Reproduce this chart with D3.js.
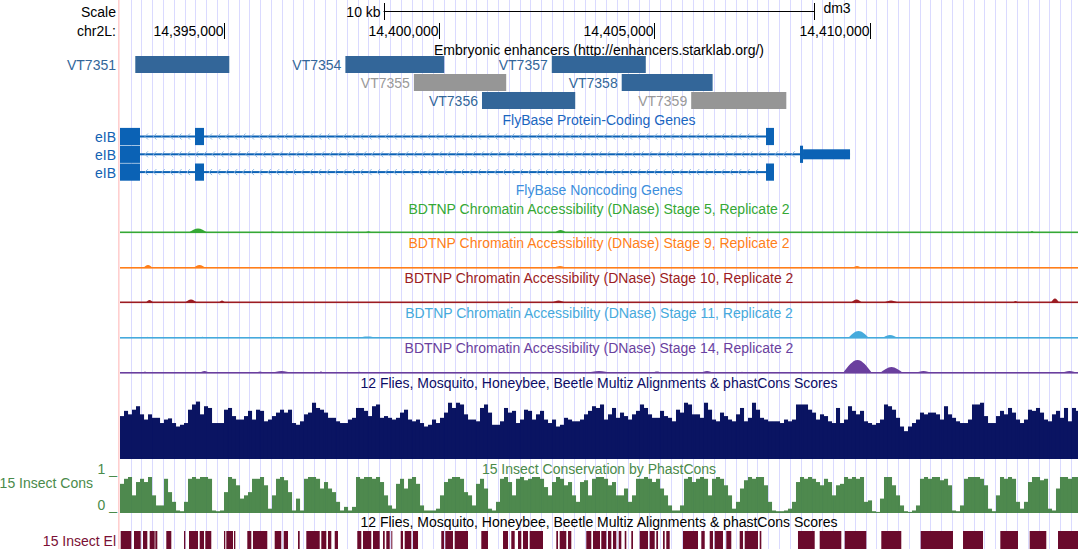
<!DOCTYPE html>
<html><head><meta charset="utf-8">
<script src="https://cdn.jsdelivr.net/npm/d3@7"></script>
<style>
body{margin:0;background:#fff}
svg{display:block}
text{font-family:"Liberation Sans",Arial,Helvetica,sans-serif;font-size:14px}
</style>
</head><body>
<svg id="c" width="1078" height="549"></svg>
<script>
// ---------------- DATA ----------------
const chromLabel = "chr2L:";
const assembly = "dm3";
const viewStart = 14392595, viewEnd = 14414833;
const posTicks = [14395000, 14400000, 14405000, 14410000];
const posLabels = ["14,395,000", "14,400,000", "14,405,000", "14,410,000"];
const scaleBarBp = 10000;
const scaleBarLabel = "10 kb";

const enhNames  = ["VT7351", "VT7354", "VT7355", "VT7356", "VT7357", "VT7358", "VT7359"];
const enhStarts = [14392950, 14397827, 14399417, 14400998, 14402618, 14404241, 14405854];
const enhEnds   = [14395132, 14400121, 14401560, 14403162, 14404800, 14406351, 14408062];
const enhRows   = [0, 0, 1, 2, 0, 1, 2];
const enhActive = [1, 1, 0, 1, 1, 1, 0];

const geneNames   = ["eIB", "eIB", "eIB"];
const geneStarts  = [14392300, 14392300, 14392300];
const geneEnds    = [14407776, 14409541, 14407776];
const geneCdsEnds = [14407776, 14408450, 14407776];
const geneExons = [
  [[14392300, 14393059], [14394336, 14394545], [14407591, 14407776]],
  [[14392300, 14393059], [14408380, 14409541]],
  [[14392300, 14393059], [14394336, 14394545], [14407591, 14407776]]
];

const dnaseTitles = [
  "BDTNP Chromatin Accessibility (DNase) Stage 5, Replicate 2",
  "BDTNP Chromatin Accessibility (DNase) Stage 9, Replicate 2",
  "BDTNP Chromatin Accessibility (DNase) Stage 10, Replicate 2",
  "BDTNP Chromatin Accessibility (DNase) Stage 11, Replicate 2",
  "BDTNP Chromatin Accessibility (DNase) Stage 14, Replicate 2"
];
const dnaseColors = ["#35a835", "#ff7f1a", "#9c1c22", "#46aadc", "#6a3f9e"];
// peaks: [start, end, signal(0..1)]
const stage5Peaks = [[14394197,14394615,0.2],[14396077,14396193,0.05],[14398282,14398445,0.06],[14402693,14402948,0.12],[14413719,14413812,0.08]];
const stage9Peaks = [[14393129,14393361,0.15],[14394290,14394591,0.15],[14402646,14402971,0.1],[14409587,14409819,0.1]];
const stage10Peaks = [[14393199,14393361,0.12],[14394104,14394382,0.15],[14394893,14395032,0.1],[14402623,14402925,0.1],[14409564,14409819,0.15],[14410330,14410655,0.1],[14413324,14413440,0.08],[14414206,14414392,0.2]];
const stage11Peaks = [[14393199,14393268,0.06],[14394429,14394591,0.06],[14396100,14396216,0.06],[14398097,14398584,0.07],[14409494,14409982,0.35],[14410283,14410655,0.15]];
const stage14Peaks = [[14393129,14393222,0.08],[14394429,14394684,0.1],[14395752,14395938,0.08],[14396100,14396588,0.1],[14397214,14397307,0.07],[14398073,14398236,0.06],[14399002,14399095,0.05],[14403412,14404016,0.1],[14404944,14405177,0.07],[14406059,14406384,0.1],[14406964,14407103,0.06],[14409378,14410051,0.65],[14410237,14410771,0.3],[14411049,14411444,0.1],[14413255,14413347,0.05],[14414438,14414833,0.1]];

const consBinBp = 92.85;
const multizValues = [
74,83,77,85,91,77,68,77,71,71,62,68,70,62,56,59,62,85,94,99,77,91,88,62,62,62,85,88,74,68,68,74,83,68,85,83,65,68,74,80,85,80,85,62,59,65,77,80,97,88,85,80,71,71,65,62,62,68,71,88,
88,83,74,91,94,71,74,71,68,71,80,85,68,65,68,62,56,59,68,62,71,80,97,88,97,94,77,68,68,65,88,94,80,59,59,65,88,80,83,62,68,85,83,68,77,83,68,62,68,56,59,71,68,65,65,68,77,83,91,88,
94,68,77,88,71,80,74,68,77,83,94,88,77,71,71,83,74,71,65,85,80,97,94,77,77,71,97,85,68,65,80,74,68,65,77,88,65,71,97,85,71,68,65,65,65,62,68,65,68,94,94,94,85,80,68,77,74,65,62,88,
62,68,91,83,77,83,65,62,59,62,68,94,91,85,71,56,48,56,62,68,80,77,80,80,77,68,91,77,71,65,62,62,68,94,94,97,74,62,62,74,83,77,88,80,68,62,68,85,83,88,80,68,65,77,83,71,88,65,88,83];
const phastConsValues = [
0.81,0.95,1,0.49,0.86,0.95,0.86,1,0.49,0.21,0.21,0.95,0.58,0.31,0.07,0.05,0.31,0.95,1,0.95,1,1,0.95,0.07,0.05,0.07,0.58,1,0.95,0.77,0.4,0.49,0.58,0.95,0.95,1,0.77,0.12,0.49,0.95,1,0.91,0.58,0.07,0.4,0.07,0.95,1,1,0.95,0.68,0.86,0.68,0.58,0.31,0.07,0.17,0.07,0.17,1,
0.95,1,1,0.95,1,0.86,0.49,0.21,0.12,0.81,0.95,0.68,0.95,1,0.81,0.21,0.07,0.07,0.07,0.12,0.49,0.86,0.95,1,1,0.95,0.58,0.49,0.21,0.81,0.95,0.68,0.12,0.07,0.31,0.95,1,0.86,0.49,0.95,1,0.91,0.95,1,1,0.95,0.72,0.49,0.86,1,0.95,0.77,0.86,0.49,0.31,0.86,0.91,0.49,0.95,1,
1,0.95,0.77,0.86,0.49,0.49,0.68,0.31,0.49,0.95,0.95,1,0.95,0.86,0.95,0.68,0.49,0.21,0.07,0.07,0.21,0.95,1,0.86,0.95,1,0.95,0.49,0.95,1,0.95,0.77,0.49,0.12,0.31,0.68,0.91,1,0.95,1,1,0.77,0.31,0.07,0.05,0.05,0.07,0.12,0.31,0.86,1,0.95,1,0.95,0.86,0.77,0.95,0.86,0.49,0.77,
0.81,1,0.95,1,0.95,1,0.31,0.35,0.05,0.03,0.4,1,1,0.77,0.49,0.21,0.05,0.03,0.07,0.21,0.95,1,0.95,1,1,0.91,0.95,0.77,0.07,0.05,0.21,0.95,1,1,1,0.95,0.77,0.12,0.05,0.49,1,0.95,1,0.95,0.31,0.12,0.31,0.86,1,1,0.91,0.95,0.12,0.07,0.68,1,1,0.95,1,1];
const insectElements = [[14392611,14392857],[14392920,14393076],[14393129,14393229],[14393284,14393400],[14393415,14393461],[14393670,14393786],[14394081,14394111],[14394197,14394406],[14394445,14394545],[14394575,14394714],[14395009,14395039],[14395063,14395218],[14395241,14395272],[14395550,14395643],[14395682,14396014],[14396186,14396339],[14396395,14396495],[14396727,14396766],[14396920,14397231],[14397268,14397384],[14397423,14397500],[14397579,14397655],[14398103,14398196],[14398236,14398428],[14398468,14398623],[14398700,14398740],[14398777,14398856],[14398893,14398916],[14399111,14399164],[14399204,14399357],[14399396,14399513],[14400053,14400116],[14400146,14400325],[14400364,14400673],[14400982,14401137],[14401486,14401602],[14401678,14401757],[14401834,14401910],[14401950,14402066],[14402105,14402414],[14402723,14402762],[14402802,14402955],[14402995,14403071],[14403419,14403535],[14403575,14403737],[14403767,14403884],[14403923,14404000],[14404039,14404116],[14404171,14404232],[14404311,14404348],[14404464,14404503],[14404659,14404852],[14404891,14405007],[14405044,14405084],[14405200,14405239],[14405276,14405355],[14405664,14406012],[14406089,14406168],[14406284,14406360],[14406400,14406592],[14406669,14406785],[14406980,14407057],[14407096,14407405],[14407444,14407482],[14408333,14408721],[14408837,14409339],[14409418,14409919],[14410267,14410731],[14411182,14411931],[14412164,14412628],[14413030,14413440],[14413712,14414097],[14414369,14414833]];

// ---------------- DRAW ----------------
const W = 1078, H = 549, X0 = 120, CX = (X0 + W) / 2;
const svg = d3.select("#c");
const x = d3.scaleLinear().domain([viewStart, viewEnd]).range([X0, W]);

svg.append("defs").append("clipPath").attr("id", "dataClip")
  .append("rect").attr("x", X0).attr("y", 0).attr("width", W - X0).attr("height", H);

// guidelines
const gridX = d3.range(130.5, W, 10.81).map(v => Math.round(v) + 0.5);
svg.append("g").selectAll("line").data(gridX).join("line")
  .attr("x1", d => d).attr("x2", d => d).attr("y1", 0).attr("y2", H)
  .attr("stroke", "#dadaff").attr("stroke-width", 1);
svg.append("rect").attr("x", 118).attr("y", 0).attr("width", 1.6).attr("height", H).attr("fill", "#ffcfcf");

function label(s, px, py, anchor, color) {
  return svg.append("text").attr("x", px).attr("y", py).attr("dy", "0.35em")
    .attr("text-anchor", anchor).attr("fill", color).text(s);
}

// scale bar
label("Scale", 116, 12.5, "end", "#000");
label(chromLabel, 116, 31.5, "end", "#000");
const barPx = x(viewStart + scaleBarBp) - x(viewStart);
const bx0 = CX - barPx / 2, bx1 = CX + barPx / 2;
svg.append("line").attr("x1", bx0).attr("x2", bx1).attr("y1", 11.5).attr("y2", 11.5).attr("stroke", "#000");
[bx0, bx1].forEach(b => svg.append("line").attr("x1", Math.round(b) + 0.5).attr("x2", Math.round(b) + 0.5)
  .attr("y1", 3).attr("y2", 20).attr("stroke", "#000"));
label(scaleBarLabel, bx0 - 3, 12, "end", "#000");
label(assembly, bx1 + 9, 8.5, "start", "#000");

// position ruler
posTicks.forEach((t, i) => {
  const tx = Math.round(x(t)) + 0.5;
  svg.append("line").attr("x1", tx).attr("x2", tx).attr("y1", 23).attr("y2", 39).attr("stroke", "#000");
  label(posLabels[i], tx - 1, 31.5, "end", "#000");
});

// enhancers
label("Embryonic enhancers (http://enhancers.starklab.org/)", CX, 50, "middle", "#000");
const enhG = svg.append("g");
enhNames.forEach((n, i) => {
  const y0 = 56 + enhRows[i] * 18;
  const c = enhActive[i] ? "#336699" : "#969696";
  const lc = enhActive[i] ? "#336699" : "#999999";
  const xs = x(enhStarts[i]), xe = x(enhEnds[i]);
  enhG.append("rect").attr("x", xs).attr("y", y0).attr("width", xe - xs).attr("height", 17).attr("fill", c);
  let lx = xs - 4;
  if (lx - 48 < X0) lx = 116;
  label(n, lx, y0 + 9, "end", lc);
});

// genes
label("FlyBase Protein-Coding Genes", CX, 120, "middle", "#1a66bf");
const geneColor = "#0b62b5";
const geneG = svg.append("g").attr("clip-path", "url(#dataClip)");
geneNames.forEach((n, i) => {
  const cy = 136.5 + i * 17.8;
  label(n, 116, cy + 0.5, "end", "#1262b3");
  const xs = Math.max(x(geneStarts[i]), X0), xe = x(geneEnds[i]);
  geneG.append("rect").attr("x", xs).attr("y", cy - 1).attr("width", xe - xs).attr("height", 2).attr("fill", geneColor);
  const ex = geneExons[i];
  for (let k = 0; k < ex.length - 1; k++) {
    const a = x(ex[k][1]), b = x(ex[k + 1][0]);
    for (let p = a + 6; p < b - 3; p += 8.4) {
      geneG.append("path").attr("d", `M${p + 2},${cy - 3}L${p - 1},${cy}L${p + 2},${cy + 3}`)
        .attr("fill", "none").attr("stroke", "#8ab6e4").attr("stroke-width", 1);
    }
  }
  ex.forEach(e => {
    const cdsE = geneCdsEnds[i];
    const thickEnd = Math.min(e[1], cdsE);
    if (thickEnd > e[0]) {
      geneG.append("rect").attr("x", x(e[0])).attr("y", cy - 8.6).attr("width", x(thickEnd) - x(e[0]))
        .attr("height", 17.2).attr("fill", geneColor);
    }
    if (e[1] > cdsE) {
      const s = Math.max(e[0], cdsE);
      geneG.append("rect").attr("x", x(s)).attr("y", cy - 5).attr("width", x(e[1]) - x(s))
        .attr("height", 10).attr("fill", geneColor);
    }
  });
});
label("FlyBase Noncoding Genes", CX, 190, "middle", "#3d8fdc");

// DNase tracks
const dnasePeaks = [stage5Peaks, stage9Peaks, stage10Peaks, stage11Peaks, stage14Peaks];
const dnaseTitleY = [209, 243.5, 278.5, 313.5, 348.5];
const dnaseBase = [232.5, 268, 302.5, 338, 373];
const dg = svg.append("g").attr("clip-path", "url(#dataClip)");
dnaseTitles.forEach((t, i) => {
  label(t, CX, dnaseTitleY[i], "middle", dnaseColors[i]);
  const y = d3.scaleLinear().domain([0, 1]).range([dnaseBase[i], dnaseBase[i] - 20]);
  const area = d3.area().x(d => x(d[0])).y0(dnaseBase[i]).y1(d => y(d[1])).curve(d3.curveMonotoneX);
  dnasePeaks[i].forEach(p => {
    dg.append("path").attr("d", area([[p[0], 0], [(p[0] + p[1]) / 2, p[2]], [p[1], 0]]))
      .attr("fill", dnaseColors[i]);
  });
  dg.append("rect").attr("x", X0).attr("y", dnaseBase[i] - 1).attr("width", W - X0).attr("height", 1.6)
    .attr("fill", dnaseColors[i]);
});

// Multiz
label("12 Flies, Mosquito, Honeybee, Beetle Multiz Alignments & phastCons Scores", CX, 383.5, "middle", "#0c0c66");
const cg = svg.append("g").attr("clip-path", "url(#dataClip)");
const yM = d3.scaleLinear().domain([0, 100]).range([459, 401]);
cg.append("g").selectAll("rect").data(multizValues).join("rect")
  .attr("x", (d, i) => x(viewStart + i * consBinBp))
  .attr("width", (d, i) => x(viewStart + (i + 1) * consBinBp) - x(viewStart + i * consBinBp) + 0.05)
  .attr("y", d => yM(d)).attr("height", d => 459 - yM(d))
  .attr("fill", "#000a5c").attr("fill-opacity", 0.96);

// phastCons
label("15 Insect Conservation by PhastCons", CX, 469.5, "middle", "#4a8a4a");
label("15 Insect Cons", 93, 483.5, "end", "#4a8a4a");
label("1 _", 117, 469.5, "end", "#4a8a4a");
label("0 _", 117, 505.5, "end", "#4a8a4a");
const yP = d3.scaleLinear().domain([0, 1]).range([513, 477]);
cg.append("g").selectAll("rect").data(phastConsValues).join("rect")
  .attr("x", (d, i) => x(viewStart + i * consBinBp))
  .attr("width", (d, i) => x(viewStart + (i + 1) * consBinBp) - x(viewStart + i * consBinBp) + 0.05)
  .attr("y", d => yP(d)).attr("height", d => Math.max(1, 513 - yP(d)))
  .attr("fill", "#3f7f3f").attr("fill-opacity", 0.92);

// Elements
label("12 Flies, Mosquito, Honeybee, Beetle Multiz Alignments & phastCons Scores", CX, 522.5, "middle", "#000");
label("15 Insect El", 116, 541, "end", "#7a1035");
cg.append("g").selectAll("rect").data(insectElements).join("rect")
  .attr("x", d => x(d[0])).attr("width", d => Math.max(1, x(d[1]) - x(d[0])))
  .attr("y", 531).attr("height", 18)
  .attr("fill", "#6a0a2c");
</script>
</body></html>
